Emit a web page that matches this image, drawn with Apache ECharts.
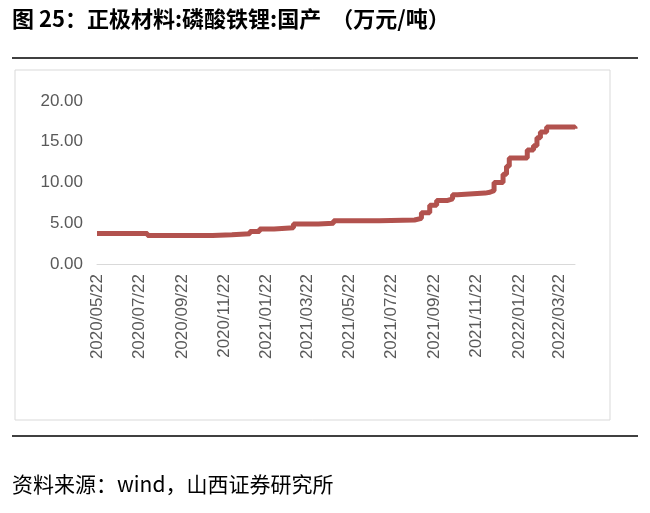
<!DOCTYPE html>
<html><head><meta charset="utf-8">
<script src="https://cdn.jsdelivr.net/npm/echarts@6/dist/echarts.min.js"></script>
<style>body{margin:0;background:#fff}#c{width:650px;height:513px}</style>
</head><body><div id="c"></div>
<script>
const startDate = '2020/05/22', endDate = '2022/04/13';
const yTicks = [0, 5, 10, 15, 20];
// step breakpoints [date, price 万元/吨]
const pointDates = ['2020/05/22','2020/08/03','2020/11/05','2020/12/03','2020/12/29','2021/01/12','2021/02/02','2021/03/02','2021/04/07','2021/04/29','2021/07/04','2021/08/24','2021/09/03','2021/09/15','2021/09/25','2021/10/11','2021/10/18','2021/10/25','2021/12/04','2021/12/11','2021/12/17','2021/12/30','2022/01/04','2022/01/08','2022/02/03','2022/02/12','2022/02/17','2022/02/22','2022/03/03','2022/04/10','2022/04/13'];
const pointValues = [3.75,3.5,3.6,3.7,4.0,4.3,4.45,4.9,5.0,5.3,5.4,5.6,6.3,7.2,7.8,8.0,8.5,8.7,8.8,9.0,10.0,11.0,12.0,13.0,14.0,14.5,15.5,16.2,16.8,16.8,16.6];

const fmt = d => d.getFullYear()+'/'+String(d.getMonth()+1).padStart(2,'0')+'/'+String(d.getDate()).padStart(2,'0');
const cats = [];
for (let d = new Date(startDate); d <= new Date(endDate); d.setDate(d.getDate()+1)) cats.push(fmt(d));

const chart = echarts.init(document.getElementById('c'));
chart.setOption({
  animation:false,
  graphic:[
    {type:'text',left:12,top:8,style:{text:'图 25：正极材料:磷酸铁锂:国产  （万元/吨）',font:'bold 22px "Noto Sans CJK SC"',fill:'#000'}},
    {type:'line',shape:{x1:12,y1:58,x2:638,y2:58},style:{stroke:'#000',lineWidth:1.5}},
    {type:'rect',shape:{x:15,y:70,width:595,height:350},style:{fill:'none',stroke:'#d9d9d9',lineWidth:1}},
    {type:'line',shape:{x1:12,y1:436,x2:638,y2:436},style:{stroke:'#000',lineWidth:1.5}},
    {type:'text',left:12,top:474,style:{text:'资料来源：wind，山西证券研究所',font:'21px "Noto Sans CJK SC"',fill:'#000'}}
  ],
  grid:{left:97,right:75,top:101,bottom:249},
  xAxis:{type:'category',data:cats,boundaryGap:false,
    axisLine:{lineStyle:{color:'#d9d9d9'}},axisTick:{show:false},
    axisLabel:{rotate:90,color:'#595959',fontSize:17,fontFamily:'Liberation Sans',margin:10,
      interval:(i,v)=>v.endsWith('/22') && (+v.slice(5,7))%2===1}},
  yAxis:{type:'value',min:0,max:20,interval:5,splitLine:{show:false},
    axisLine:{show:false},axisTick:{show:false},
    axisLabel:{formatter:v=>v.toFixed(2),color:'#595959',fontSize:17,fontFamily:'Liberation Sans',margin:14}},
  series:[{type:'line',step:'end',showSymbol:false,connectNulls:true,
    data:pointDates.map((d,i)=>[d,pointValues[i]]),
    lineStyle:{color:'#B2524E',width:5}}]
});
</script></body></html>
